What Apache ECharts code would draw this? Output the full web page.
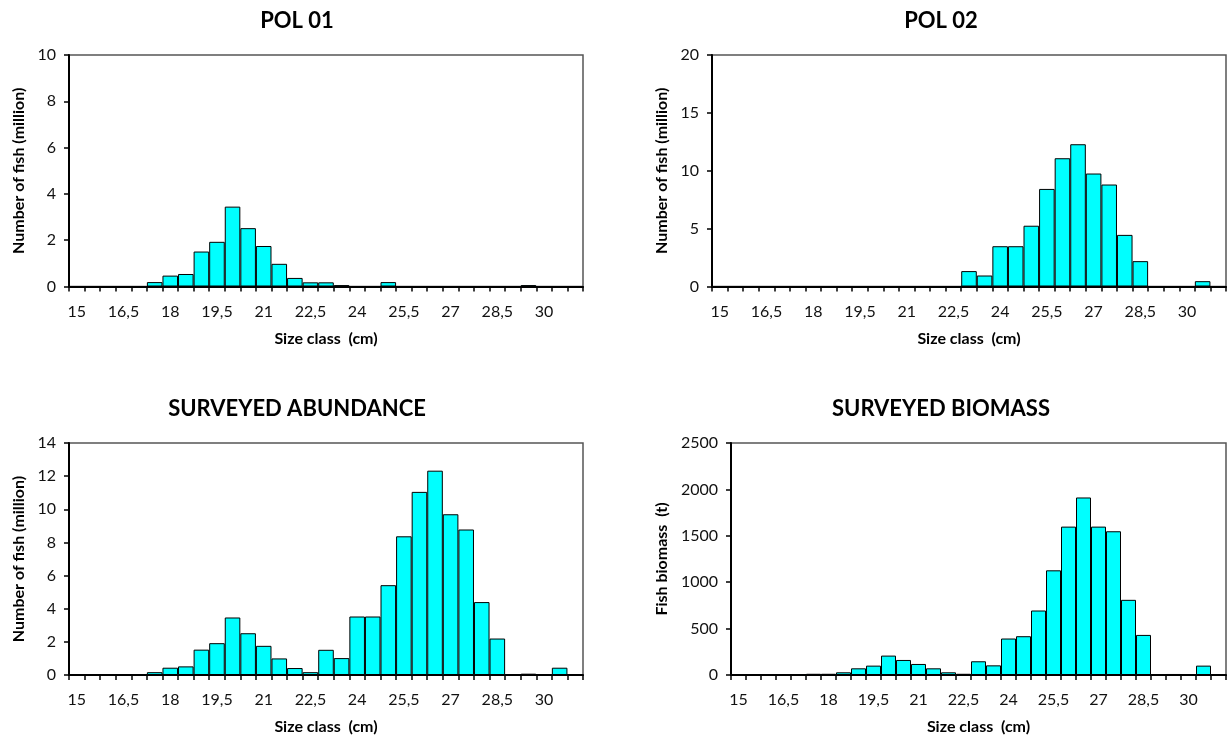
<!DOCTYPE html>
<html>
<head>
<meta charset="utf-8">
<script src="https://cdn.jsdelivr.net/npm/echarts@6/dist/echarts.min.js"></script>
<style>
  html, body { margin: 0; padding: 0; background: #fff; }
  #chart { width: 1229px; height: 742px; }
</style>
</head>
<body>
<div id="chart"></div>
<script>
// Size classes (cm), 0.5 cm steps
const sizeClasses = ['15','15,5','16','16,5','17','17,5','18','18,5','19','19,5','20','20,5','21','21,5','22','22,5',
  '23','23,5','24','24,5','25','25,5','26','26,5','27','27,5','28','28,5','29','29,5','30','30,5','31'];

// Number of fish (million) per size class, strata POL 01 and POL 02
const pol01 = [0,0,0,0,0,0.19,0.47,0.54,1.51,1.93,3.45,2.52,1.75,0.98,0.37,0.18,
  0.18,0.06,0,0,0.19,0,0,0,0,0,0,0,0,0.06,0,0,0];
const pol02 = [0,0,0,0,0,0,0,0,0,0,0,0,0,0,0,0,
  1.33,0.95,3.48,3.48,5.25,8.43,11.08,12.29,9.76,8.81,4.46,2.19,0,0,0,0.46,0];

// Total surveyed abundance (million) and biomass (t)
const abundance = [0,0,0,0,0,0.17,0.44,0.52,1.53,1.92,3.47,2.52,1.76,1.0,0.42,0.17,
  1.52,1.02,3.53,3.53,5.42,8.37,11.05,12.33,9.7,8.78,4.4,2.2,0,0.08,0,0.44,0];
const biomass = [0,0,0,0,0,13,13,29,72,101,209,162,119,72,29,13,
  148,104,393,418,695,1128,1599,1913,1599,1549,810,432,0,11,0,101,0];

// Panel titles and y-axis scales
const titles = ['POL 01', 'POL 02', 'SURVEYED ABUNDANCE', 'SURVEYED BIOMASS'];
const yNames = ['Number of fish (million)', 'Number of fish (million)', 'Number of fish (million)', 'Fish biomass  (t)'];
const yMax = [10, 20, 14, 2500];
const yStep = [2, 5, 2, 500];

const FONT = 'Lato, "Open Sans", sans-serif';
const panels = [
  { data: pol01,     grid: { left: 69,  top: 55,  width: 514, height: 231.5 }, titleX: 292, titleY: 5,   nameGap: 42 },
  { data: pol02,     grid: { left: 712, top: 55,  width: 514, height: 231.5 }, titleX: 936, titleY: 5,   nameGap: 42 },
  { data: abundance, grid: { left: 69,  top: 443, width: 514, height: 232 },   titleX: 292, titleY: 393, nameGap: 42 },
  { data: biomass,   grid: { left: 731, top: 443, width: 495, height: 232 },   titleX: 936, titleY: 393, nameGap: 61 }
];

const option = {
  animation: false,
  backgroundColor: '#fff',
  textStyle: { fontFamily: FONT },
  title: panels.map((p, i) => ({
    text: titles[i],
    left: p.titleX,
    top: p.titleY,
    textAlign: 'center',
    textStyle: { fontFamily: FONT, fontSize: 22, fontWeight: 'bold', color: '#000' }
  })),
  grid: panels.map(p => Object.assign({ show: true, borderColor: '#555', borderWidth: 1.5, backgroundColor: '#fff' }, p.grid)),
  xAxis: panels.map((p, i) => ({
    type: 'category',
    gridIndex: i,
    data: sizeClasses,
    boundaryGap: true,
    name: 'Size class  (cm)',
    nameLocation: 'middle',
    nameGap: 44,
    nameTextStyle: { fontFamily: FONT, fontSize: 16, fontWeight: 'bold', color: '#000' },
    axisLine: { lineStyle: { color: '#000', width: 2 } },
    axisTick: { show: true, interval: 0, alignWithLabel: false, length: 5, lineStyle: { color: '#000', width: 1.5 } },
    axisLabel: { interval: 2, margin: 17, fontSize: 16, color: '#111', fontFamily: FONT },
    splitLine: { show: false }
  })),
  yAxis: panels.map((p, i) => ({
    type: 'value',
    gridIndex: i,
    min: 0,
    max: yMax[i],
    interval: yStep[i],
    name: yNames[i],
    nameLocation: 'middle',
    nameGap: p.nameGap,
    nameTextStyle: { fontFamily: FONT, fontSize: 16, fontWeight: 'bold', color: '#000' },
    axisLine: { show: true, lineStyle: { color: '#000', width: 2 } },
    axisTick: { show: true, length: 5, lineStyle: { color: '#000', width: 1.5 } },
    axisLabel: { margin: 13, fontSize: 16, color: '#111', fontFamily: FONT, formatter: v => String(v) },
    splitLine: { show: false }
  })),
  series: panels.map((p, i) => ({
    type: 'bar',
    xAxisIndex: i,
    yAxisIndex: i,
    data: p.data,
    barCategoryGap: '0%',
    itemStyle: { color: '#00FFFF', borderColor: '#000', borderWidth: 1 },
    emphasis: { disabled: true }
  }))
};

const chart = echarts.init(document.getElementById('chart'), null, { renderer: 'canvas' });
chart.setOption(option);
</script>
</body>
</html>
